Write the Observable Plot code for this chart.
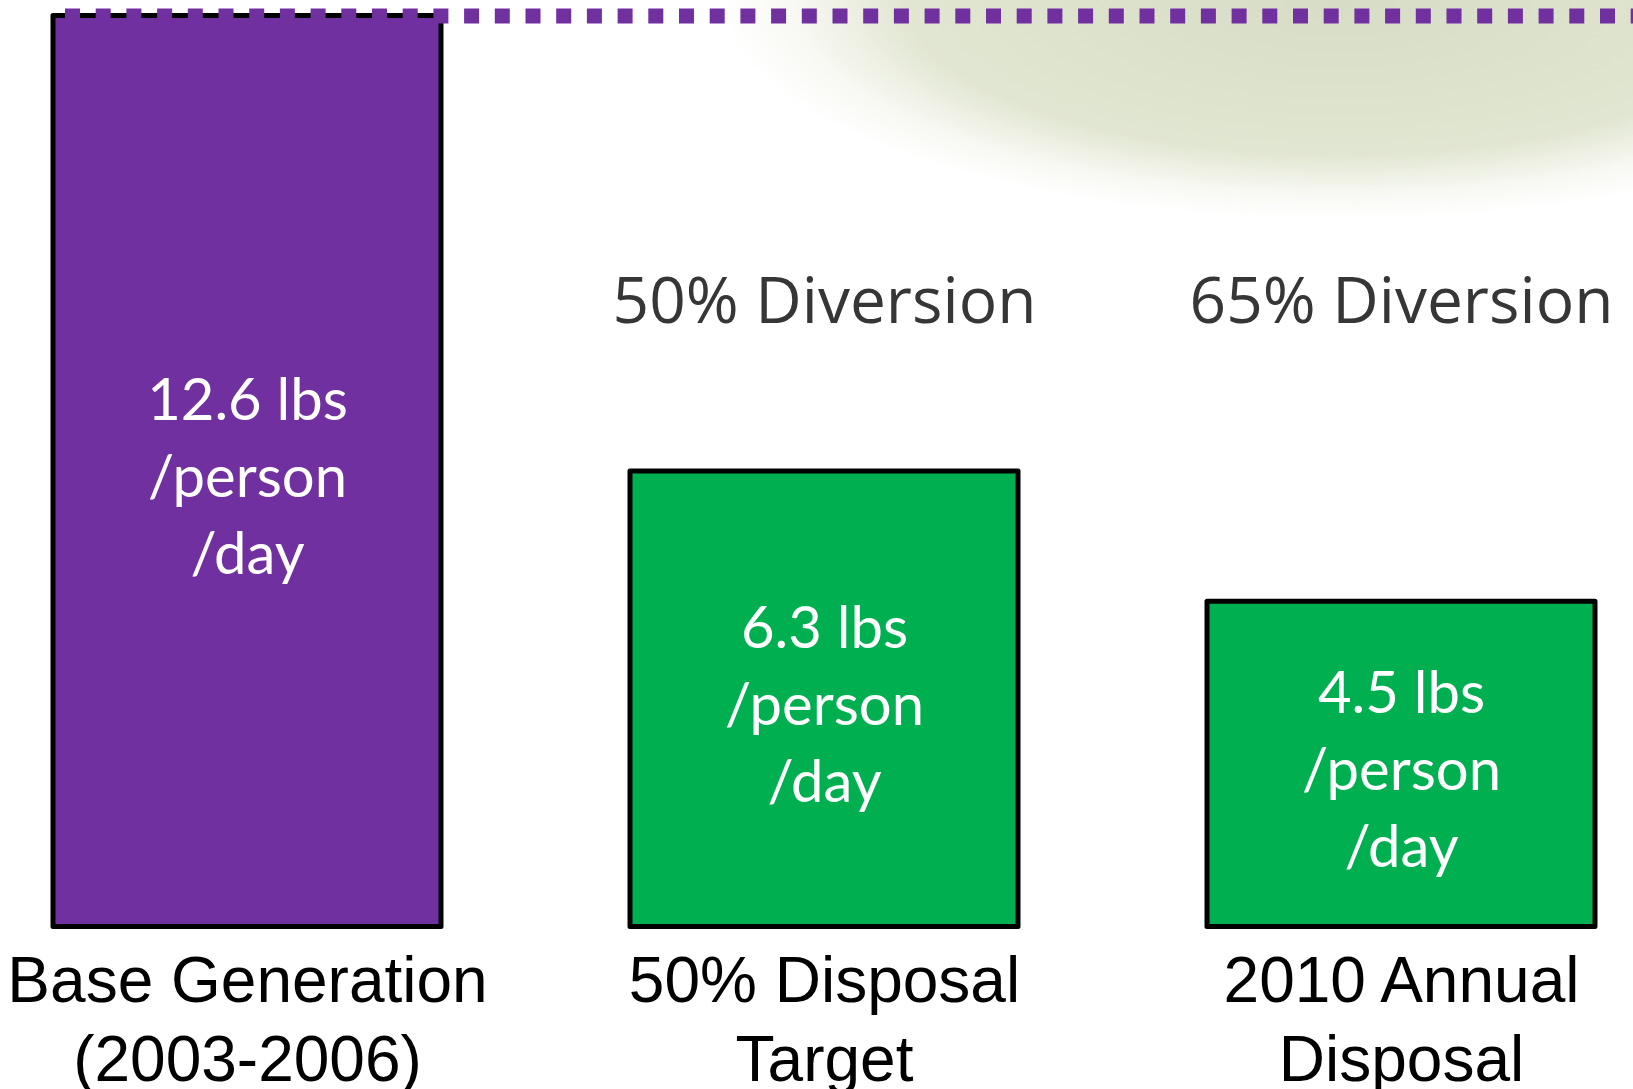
<!DOCTYPE html>
<html>
<head>
<meta charset="utf-8">
<script src="https://cdn.jsdelivr.net/npm/d3@7"></script>
<script src="https://cdn.jsdelivr.net/npm/@observablehq/plot@0.6"></script>
<style>
  html, body { margin: 0; padding: 0; overflow: hidden; background: #ffffff; }
  #wrap {
    position: relative; width: 1633px; height: 1089px;
    background:
      radial-gradient(ellipse 620px 220px at 1340px 0px,
        rgba(185,195,155,0.58) 0%, rgba(198,207,168,0.52) 70%, rgba(225,230,205,0.25) 88%, rgba(255,255,255,0) 100%);
  }
  #chart svg { display: block; }
</style>
</head>
<body>
<div id="wrap"><div id="chart"></div></div>
<script>
// ---- data ----
const categories = ["Base Generation\n(2003-2006)", "50% Disposal\nTarget", "2010 Annual\nDisposal"];
const values = [12.6, 6.3, 4.5];              // lbs / person / day
const groups = ["base", "target", "target"];
const diversionLabels = ["", "50% Diversion", "65% Diversion"];
const baseLine = 12.6;

const data = categories.map((c, i) => ({
  category: c,
  value: values[i],
  group: groups[i],
  inner: `${d3.format(".1f")(values[i])} lbs\n/person\n/day`,
  diversion: diversionLabels[i]
}));

const chart = Plot.plot({
  width: 1633,
  height: 1089,
  marginLeft: 65,
  marginRight: 0,
  marginTop: 0,
  marginBottom: 0,
  style: { background: "transparent", overflow: "visible" },
  x: { type: "band", domain: categories, range: [52, 1596], paddingInner: 0.327, paddingOuter: 0, axis: null },
  y: { domain: [0, 12.6], range: [926.5, 15.5], axis: null },
  color: { domain: ["base", "target"], range: ["#7030A0", "#00B050"] },
  marks: [
    Plot.barY(data, {
      x: "category", y: "value", fill: "group",
      stroke: "#000000", strokeWidth: 5, strokeLinejoin: "round"
    }),
    Plot.ruleY([baseLine], {
      stroke: "#7030A0", strokeWidth: 15, strokeDasharray: "15,15.7"
    }),
    Plot.text(data, {
      x: "category", y: d => d.value / 2, text: "inner",
      fill: "#ffffff", fontFamily: "Lato", fontSize: 58, lineHeight: 1.33, dy: 1
    }),
    Plot.text(data, {
      x: "category", frameAnchor: "top", text: "diversion",
      lineAnchor: "top", dy: 277, fill: "#363636", fontFamily: "Open Sans", fontSize: 64
    }),
    Plot.text(data, {
      x: "category", y: 0, text: "category",
      lineAnchor: "top", dy: 20, fill: "#000000", fontFamily: "Liberation Sans, Arial", fontSize: 64, lineHeight: 1.22
    })
  ]
});

document.getElementById("chart").appendChild(chart);
</script>
</body>
</html>
